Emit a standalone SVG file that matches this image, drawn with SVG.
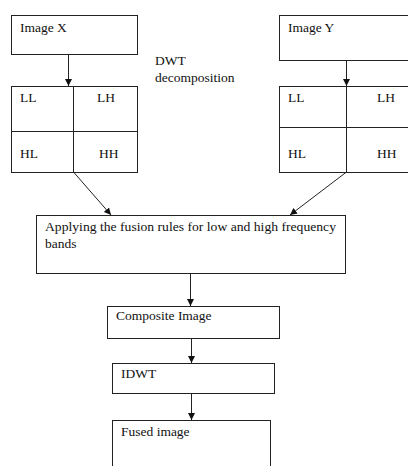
<svg xmlns="http://www.w3.org/2000/svg" width="408" height="466" viewBox="0 0 408 466">
<style>
.box{fill:#fff;stroke:#222;stroke-width:1}
.ln{stroke:#222;stroke-width:1;fill:none}
text{font-family:"Liberation Serif","Times New Roman",serif;font-size:13.5px;fill:#111}
</style>
<defs>
<marker id="ah" viewBox="0 0 10 10" refX="10" refY="5" markerWidth="7" markerHeight="7" orient="auto" markerUnits="userSpaceOnUse">
<path d="M0,0 L10,5 L0,10 z" fill="#111"/>
</marker>
</defs>
<rect width="408" height="466" fill="#fff"/>
<g id="imageX"><rect class="box" x="11.5" y="15.5" width="126" height="39"/><text x="20" y="32">Image X</text></g>
<g id="imageY"><rect class="box" x="279.5" y="15.5" width="135" height="45"/><text x="288" y="32">Image Y</text></g>
<g id="dwtLabel"><text x="155" y="65">DWT</text><text x="155" y="82">decomposition</text></g>
<g id="gridX">
<rect class="box" x="11.5" y="86.5" width="126" height="86"/>
<line class="ln" x1="73.5" y1="86" x2="73.5" y2="172"/>
<line class="ln" x1="11" y1="131.5" x2="137" y2="131.5"/>
<text x="20" y="102">LL</text><text x="97" y="102">LH</text>
<text x="20" y="158">HL</text><text x="99" y="158">HH</text>
</g>
<g id="gridY">
<rect class="box" x="279.5" y="86.5" width="135" height="86"/>
<line class="ln" x1="346.5" y1="86" x2="346.5" y2="172"/>
<line class="ln" x1="279" y1="127.5" x2="410" y2="127.5"/>
<text x="288" y="102">LL</text><text x="377" y="102">LH</text>
<text x="288" y="158">HL</text><text x="377" y="158">HH</text>
</g>
<g id="fusion"><rect class="box" x="36.5" y="215.5" width="309" height="58"/>
<text x="45" y="231" textLength="291" lengthAdjust="spacingAndGlyphs">Applying the fusion rules for low and high frequency</text>
<text x="45" y="248">bands</text></g>
<g id="composite"><rect class="box" x="107.5" y="306.5" width="172" height="32"/><text x="116" y="320">Composite Image</text></g>
<g id="idwt"><rect class="box" x="112.5" y="363.5" width="162" height="30"/><text x="121" y="378">IDWT</text></g>
<g id="fused"><rect class="box" x="112.5" y="420.5" width="158" height="60"/><text x="121" y="436">Fused image</text></g>
<g id="connectors">
<line class="ln" x1="68.5" y1="54" x2="68.5" y2="86" marker-end="url(#ah)"/>
<line class="ln" x1="346.5" y1="60" x2="346.5" y2="86" marker-end="url(#ah)"/>
<line class="ln" x1="73.5" y1="172" x2="111" y2="215" marker-end="url(#ah)"/>
<line class="ln" x1="346.5" y1="172" x2="290" y2="215" marker-end="url(#ah)"/>
<line class="ln" x1="190.5" y1="273" x2="190.5" y2="306" marker-end="url(#ah)"/>
<line class="ln" x1="191.5" y1="338" x2="191.5" y2="363" marker-end="url(#ah)"/>
<line class="ln" x1="191.5" y1="393" x2="191.5" y2="420" marker-end="url(#ah)"/>
</g>
</svg>
